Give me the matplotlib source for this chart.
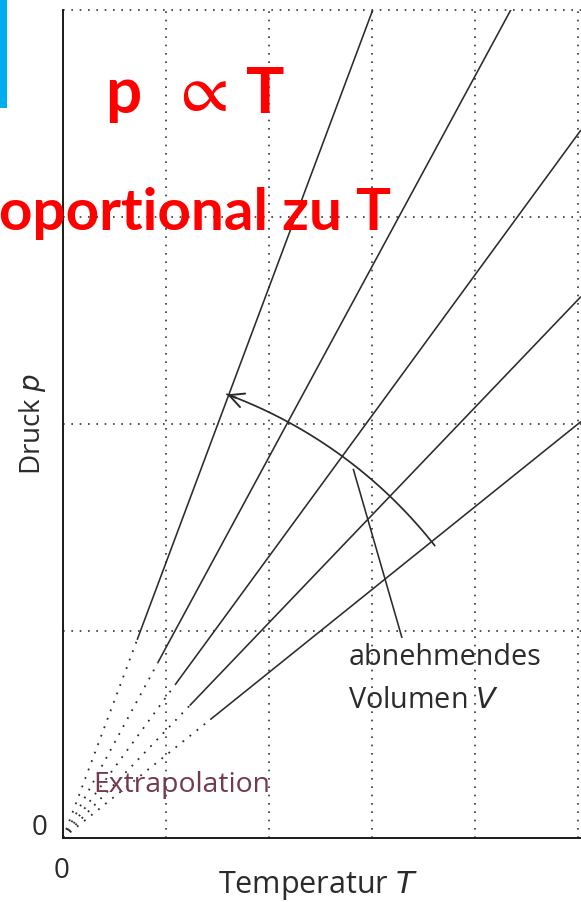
import matplotlib
matplotlib.use("Agg")
import matplotlib.pyplot as plt
import numpy as np
from matplotlib.patches import Rectangle

plt.rcParams["font.family"] = ["Open Sans", "DejaVu Sans"]

# Isochores p = k*T for decreasing volume (steeper = smaller V)
SLOPES = [1.33, 0.92, 0.68, 0.52, 0.40]
# temperature where the measured (solid) part of each isochore starts
T_SOLID = [0.72, 0.92, 1.09, 1.23, 1.43]
T_MAX = 5.03
P_MAX = 4.0
GRID_T = [1, 2, 3, 4, 5]
GRID_P = [1, 2, 3, 4]

INK = "#2b2b2b"
RED = "#ff0000"

W, H = 581, 902
fig = plt.figure(figsize=(W / 100, H / 100), dpi=100)
# axes box in pixels: left 63, bottom 838, top 10, right edge of figure
ax = fig.add_axes([63 / W, (H - 838) / H, (W - 63) / W, 828 / H])
ax.set_xlim(0, T_MAX)
ax.set_ylim(0, P_MAX)
for s in ["top", "right"]:
    ax.spines[s].set_visible(False)
for s in ["left", "bottom"]:
    ax.spines[s].set_linewidth(1.4)
    ax.spines[s].set_color("#1a1a1a")
ax.set_xticks([])
ax.set_yticks([])

dots = (0, (1, 4))
for t in GRID_T:
    ax.axvline(t, color="#333333", lw=1.2, ls=dots, clip_on=False, zorder=1)
for p in GRID_P:
    ax.axhline(p, color="#333333", lw=1.2, ls=dots, clip_on=False, zorder=1)

for k, t0 in zip(SLOPES, T_SOLID):
    ax.plot([0, t0], [0, k * t0], color=INK, lw=1.3, ls=dots, zorder=2)
    ax.plot([t0, T_MAX], [k * t0, k * T_MAX], color=INK, lw=1.15, zorder=2,
            solid_capstyle="butt")

# curved arrow: circle around the origin (in pixel terms) crossing the isochores
rad_px = 473
rt, rp = rad_px / 103.0, rad_px / 207.0
th = np.radians(np.linspace(38.2, 69.7, 80))
ax.plot(rt * np.cos(th), rp * np.sin(th), color=INK, lw=1.25, zorder=3)
ax.annotate("", xy=(rt * np.cos(th[-1]), rp * np.sin(th[-1])),
            xytext=(rt * np.cos(th[-4]), rp * np.sin(th[-4])),
            arrowprops=dict(arrowstyle="->", color=INK, lw=1.4,
                            mutation_scale=26, shrinkA=0, shrinkB=0))

# leader line to the label
ax.plot([2.82, 3.29], [1.78, 0.97], color=INK, lw=1.15, zorder=3)
ax.text(2.77, 0.836, "abnehmendes", fontsize=20.7, color=INK, va="baseline")
ax.text(2.77, 0.63, "Volumen $\\mathit{V}$", fontsize=20.7, color=INK,
        va="baseline")
ax.text(0.29, 0.22, "Extrapolation", fontsize=20.4, color="#733a4c",
        va="baseline")

# axis labels and zeros
fig.text(40 / W, 1 - 828 / H, "0", fontsize=20, color=INK, ha="center",
         va="center")
fig.text(62 / W, 1 - 871 / H, "0", fontsize=20, color=INK, ha="center",
         va="center")
fig.text(318 / W, 1 - 893 / H, "Temperatur $\\mathit{T}$", fontsize=22,
         color=INK, ha="center", va="baseline")
fig.text(32 / W, 1 - 424 / H, "Druck $\\mathit{p}$", fontsize=20, color=INK,
         ha="center", va="center", rotation=90)

# red annotations
red_font = ["Lato", "DejaVu Sans"]
fig.text(105 / W, 1 - 113 / H, "p", fontsize=46, color=RED, weight="bold",
         family=red_font, va="baseline")
fig.text(204 / W, 1 - 95 / H, "\u221d", fontsize=50, color=RED,
         family=["STIXGeneral", "DejaVu Sans"], ha="center", va="center")
fig.text(246 / W, 1 - 113 / H, "T", fontsize=46, color=RED, weight="bold",
         family=red_font, va="baseline")
fig.text(391 / W, 1 - 230 / H, "proportional zu T", fontsize=42, color=RED,
         weight="bold", family=red_font, ha="right", va="baseline")

fig.add_artist(Rectangle((0, 1 - 108 / H), 7 / W, 108 / H,
                         transform=fig.transFigure, color="#00aeef", lw=0))

fig.savefig("out.png", dpi=100)
